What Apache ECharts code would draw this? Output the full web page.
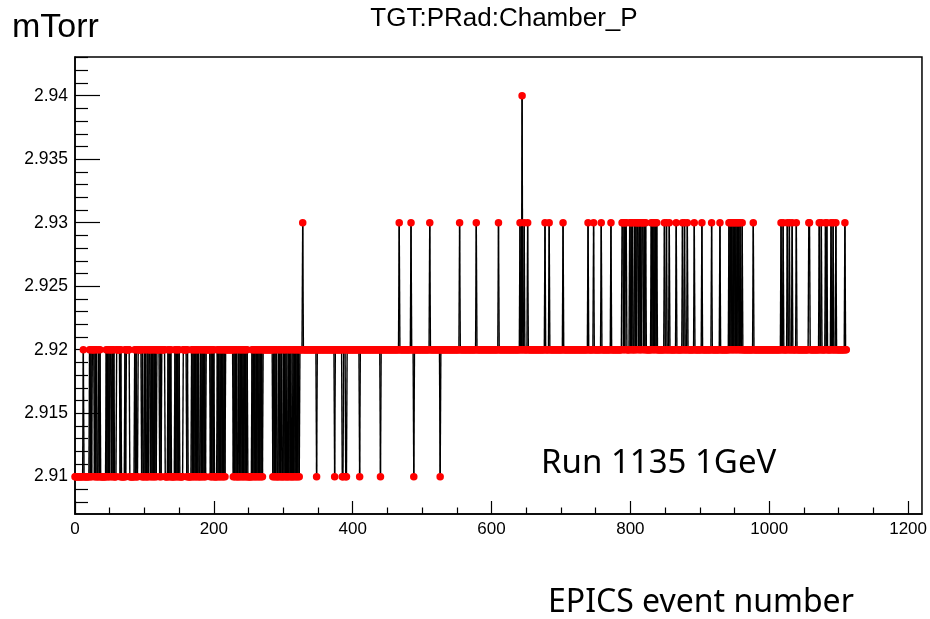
<!DOCTYPE html>
<html>
<head>
<meta charset="utf-8">
<script src="https://cdn.jsdelivr.net/npm/echarts@6/dist/echarts.min.js"></script>
<style>
html,body{margin:0;padding:0;background:#fff;}
#chart{width:930px;height:619px;}
</style>
</head>
<body>
<div id="chart"></div>
<script>
// ---- data ----
const eventCount = 1112;          // events 0 .. 1111
const baseLevel = 2.92;           // most readings
const lowLevel = 2.91;
const highLevel = 2.93;
const peakLevel = 2.94;

// runs of events at 2.91 [first, last]
const lowRuns = [
  [0,11],[13,20],[22,22],[24,24],[28,28],[30,30],[32,33],[35,35],[37,44],[46,46],
  [48,48],[50,50],[53,53],[55,55],[57,59],[65,65],[67,71],[73,73],[79,85],[87,87],
  [89,90],[96,96],[98,99],[101,101],[103,104],[106,106],[109,109],[111,111],[113,113],
  [115,115],[117,117],[122,122],[124,124],[130,133],[135,135],[137,137],[139,143],
  [145,145],[147,147],[149,149],[151,155],[161,161],[163,167],[169,169],[171,171],
  [173,173],[175,175],[177,177],[179,180],[182,182],[184,184],[186,186],[188,188],
  [195,195],[197,197],[199,199],[201,204],[206,206],[208,208],[210,210],[212,212],
  [214,214],[216,216],[228,228],[230,230],[232,232],[234,235],[237,237],[239,239],
  [241,241],[243,243],[245,245],[247,247],[249,254],[256,256],[258,258],[260,260],
  [262,262],[264,264],[266,266],[268,268],[270,270],[285,285],[287,287],[289,289],
  [291,292],[294,294],[296,296],[298,299],[301,301],[303,303],[305,306],[308,308],
  [310,310],[312,313],[315,315],[317,317],[319,319],[321,321],[323,323],
  [348,348],[374,374],[385,386],[390,391],[410,410],[440,440],[488,488],[526,526]
];
// single events at 2.93
const highEvents = [328,467,484,511,554,578,610,641,647,652,677,683,703,739,747,758,772,
  788,789,791,793,794,799,801,803,806,808,810,811,813,815,817,818,820,822,830,832,834,
  836,838,849,852,856,866,875,878,882,892,903,917,929,942,944,946,948,950,952,954,956,
  958,961,977,1017,1020,1026,1029,1033,1039,1057,1058,1072,1075,1081,1083,1089,1092,
  1096,1109];
// single events at 2.94
const peakEvents = [644];

// axis tick labels
const xTickValues = [0,200,400,600,800,1000,1200];
const yTickValues = [2.91,2.915,2.92,2.925,2.93,2.935,2.94];

// ---- build the series table ----
const values = new Array(eventCount).fill(baseLevel);
lowRuns.forEach(([a,b]) => { for (let i=a;i<=b;i++) values[i] = lowLevel; });
highEvents.forEach(i => { values[i] = highLevel; });
peakEvents.forEach(i => { values[i] = peakLevel; });
const seriesData = values.map((v,i) => [i, v]);

// minor tick positions (axis decoration)
const xMinor = [];
for (let i=0;i<xTickValues.length-1;i++){
  const step=(xTickValues[i+1]-xTickValues[i])/4;
  for (let k=1;k<4;k++) xMinor.push(xTickValues[i]+k*step);
}
const yMinor = [];
const yAll = [2.905].concat(yTickValues).concat([2.945]);
for (let i=0;i<yAll.length-1;i++){
  const step=(yAll[i+1]-yAll[i])/5;
  for (let k=1;k<5;k++) yMinor.push(+(yAll[i]+k*step).toFixed(4));
}

const X_MIN=0, X_MAX=1220, Y_MIN=2.90706, Y_MAX=2.94305;
const labelFont = 'Liberation Sans, Arial, Helvetica, sans-serif';

const chart = echarts.init(document.getElementById('chart'), null, {renderer:'canvas'});
chart.setOption({
  animation:false,
  backgroundColor:'#fff',
  grid:{left:75, top:57, right:7, bottom:105, show:true, borderColor:'#000', borderWidth:1.5, backgroundColor:'transparent'},
  xAxis:[{
    type:'value', min:X_MIN, max:X_MAX, position:'bottom',
    axisLine:{show:true, onZero:false, lineStyle:{color:'#000', width:1.5}},
    axisTick:{show:true, inside:true, length:13, customValues:xTickValues, lineStyle:{color:'#000', width:1.2}},
    axisLabel:{customValues:xTickValues, color:'#000', fontSize:17, fontFamily:labelFont, margin:7,
      formatter:v=>String(Math.round(v))},
    splitLine:{show:false}
  },{
    type:'value', min:X_MIN, max:X_MAX, position:'bottom', offset:0,
    axisLine:{show:false},
    axisTick:{show:true, inside:true, length:6.5, customValues:xMinor, lineStyle:{color:'#000', width:1.2}},
    axisLabel:{show:false}, splitLine:{show:false}
  }],
  yAxis:[{
    type:'value', min:Y_MIN, max:Y_MAX, position:'left',
    axisLine:{show:true, onZero:false, lineStyle:{color:'#000', width:1.5}},
    axisTick:{show:true, inside:true, length:25, customValues:yTickValues, lineStyle:{color:'#000', width:1.2}},
    axisLabel:{customValues:yTickValues, color:'#000', fontSize:17.5, fontFamily:labelFont, margin:7,
      formatter:v=>String(+(+v).toFixed(3))},
    splitLine:{show:false}
  },{
    type:'value', min:Y_MIN, max:Y_MAX, position:'left', offset:0,
    axisLine:{show:false},
    axisTick:{show:true, inside:true, length:13, customValues:yMinor, lineStyle:{color:'#000', width:1.2}},
    axisLabel:{show:false}, splitLine:{show:false}
  }],
  series:[{
    // connecting line between consecutive readings
    type:'custom', xAxisIndex:0, yAxisIndex:0, data:seriesData, z:2,
    progressive:0, silent:true, clip:true,
    renderItem:(params, api) => {
      const i = params.dataIndex;
      if (i === 0) return null;
      const p0 = api.coord(seriesData[i-1]);
      const p1 = api.coord([api.value(0), api.value(1)]);
      return {type:'line', shape:{x1:p0[0], y1:p0[1], x2:p1[0], y2:p1[1]},
              style:{stroke:'#000', lineWidth:1.4}};
    }
  },{
    // markers
    type:'scatter', xAxisIndex:0, yAxisIndex:0, data:seriesData, z:3,
    symbol:'circle', symbolSize:7.5, progressive:0, silent:true,
    itemStyle:{color:'#ff0000', opacity:1}
  }],
  graphic:[
    {type:'text', left:12, top:11, style:{text:'mTorr', font:'34px '+labelFont, fill:'#000'}},
    {type:'text', x:504, y:6, style:{text:'TGT:PRad:Chamber_P', font:'26px '+labelFont, fill:'#000', textAlign:'center', textVerticalAlign:'top'}},
    {type:'text', left:541, top:447, style:{text:'Run 1135 1GeV', font:'33px "Noto Sans", "Open Sans", sans-serif', fill:'#000'}},
    {type:'text', left:548, top:587, style:{text:'EPICS event number', font:'32px "Noto Sans", "Open Sans", sans-serif', fill:'#000'}}
  ]
});
</script>
</body>
</html>
